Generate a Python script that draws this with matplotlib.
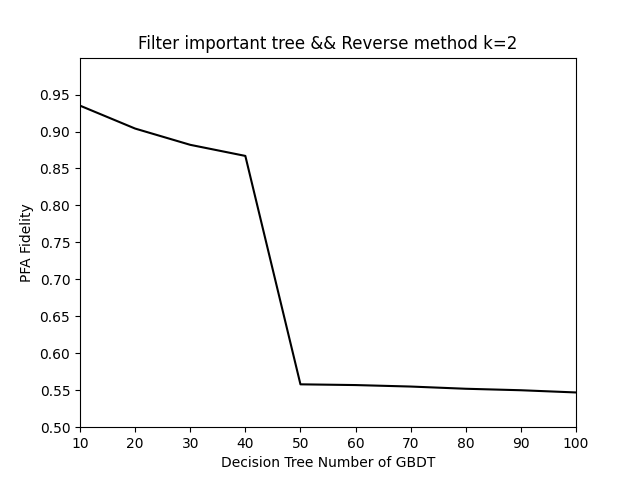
import matplotlib
matplotlib.use("Agg")
import matplotlib.pyplot as plt
import numpy as np

# tree counts and fidelity values
tree_num = [10, 20, 30, 40, 50, 60, 70, 80, 90, 100]
fidelity = [0.935, 0.904, 0.882, 0.867, 0.558, 0.557, 0.555, 0.552, 0.550, 0.547]

fig, ax = plt.subplots(figsize=(6.4, 4.8), dpi=100)
ax.plot(tree_num, fidelity, color="black")

ax.set_xlim(10, 100)
ax.set_ylim(0.5, 1.0)
ax.set_xticks(np.arange(10, 101, 10))
ax.set_yticks(np.arange(0.5, 0.951, 0.05))

ax.set_title("Filter important tree && Reverse method k=2")
ax.set_xlabel("Decision Tree Number of GBDT")
ax.set_ylabel("PFA Fidelity")

fig.savefig("out.png")
